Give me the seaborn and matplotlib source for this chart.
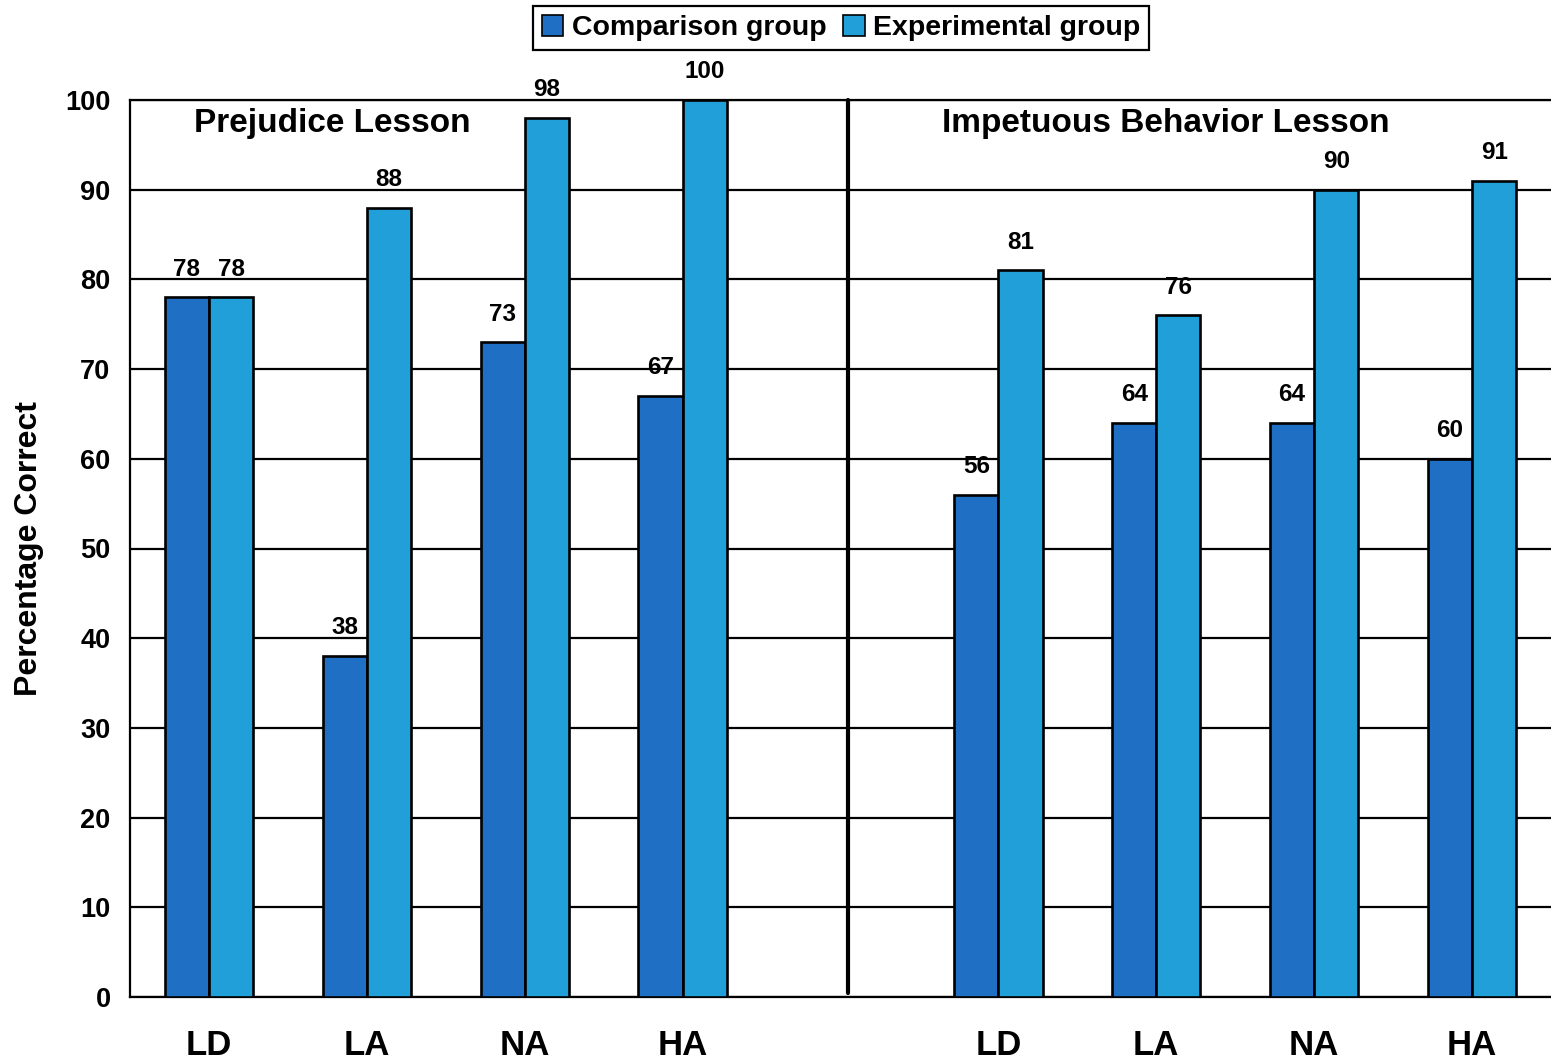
import matplotlib
matplotlib.use("Agg")
import matplotlib.pyplot as plt
from matplotlib.patches import Patch
import seaborn as sns
import pandas as pd

# Data
levels = ["LD", "LA", "NA", "HA"]
lessons = ["Prejudice Lesson", "Impetuous Behavior Lesson"]
groups = ["Comparison group", "Experimental group"]
prejudice_comparison = [78, 38, 73, 67]
prejudice_experimental = [78, 88, 98, 100]
impetuous_comparison = [56, 64, 64, 60]
impetuous_experimental = [81, 76, 90, 91]
yticks = [0, 10, 20, 30, 40, 50, 60, 70, 80, 90, 100]

colors = {"Comparison group": "#1F6FC5", "Experimental group": "#219FD8"}

rows = []
for lesson, comp, exp in [
    (lessons[0], prejudice_comparison, prejudice_experimental),
    (lessons[1], impetuous_comparison, impetuous_experimental),
]:
    for lvl, c, e in zip(levels, comp, exp):
        rows.append({"slot": f"{lesson}|{lvl}", "group": groups[0], "value": c})
        rows.append({"slot": f"{lesson}|{lvl}", "group": groups[1], "value": e})
df = pd.DataFrame(rows)

order = [f"{lessons[0]}|{l}" for l in levels] + ["gap"] + [f"{lessons[1]}|{l}" for l in levels]
tick_labels = levels + [""] + levels

sns.set_theme(style="white")
plt.rcParams["font.family"] = ["Liberation Sans", "DejaVu Sans"]
plt.rcParams["font.weight"] = "bold"
plt.rcParams["text.color"] = "black"
plt.rcParams["axes.labelcolor"] = "black"
plt.rcParams["xtick.color"] = "black"
plt.rcParams["ytick.color"] = "black"

fig = plt.figure(figsize=(15.51, 10.60), dpi=100)
ax = fig.add_axes([130 / 1551, 1 - 997 / 1060, 1 - 130 / 1551, (997 - 100) / 1060])

sns.barplot(
    data=df, x="slot", y="value", hue="group", order=order, hue_order=groups,
    palette=colors, saturation=1, width=0.56, edgecolor="black", linewidth=1.9,
    errorbar=None, legend=False, ax=ax, zorder=3,
)

ax.set_xlim(-0.5, 8.5)
ax.set_ylim(0, 100)
ax.set_yticks(yticks)
ax.set_yticklabels([str(t) for t in yticks], fontsize=19.5, fontweight="bold")
ax.grid(axis="y", color="black", linewidth=1.6, zorder=0)
ax.set_axisbelow(True)

# category labels at centres, tick marks at boundaries
ax.set_xticks(range(len(order)))
ax.set_xticklabels(tick_labels, fontsize=25, fontweight="bold")
ax.tick_params(axis="x", which="major", length=0, pad=23)
ax.set_xticks([i - 0.5 for i in range(len(order) + 1)], minor=True)
ax.tick_params(axis="x", which="minor", length=8, width=1.6, color="black", direction="out")
ax.tick_params(axis="y", length=8, width=1.6, color="black", direction="out", pad=6)

for side in ["left", "bottom", "top"]:
    ax.spines[side].set_visible(True)
    ax.spines[side].set_color("black")
    ax.spines[side].set_linewidth(1.6)
ax.spines["right"].set_visible(False)

ax.set_xlabel("")
ax.set_ylabel("Percentage Correct", fontsize=23, fontweight="bold", labelpad=15)

# value labels
for cont in ax.containers:
    ax.bar_label(cont, fmt="%d", padding=12, fontsize=17.5, fontweight="bold")

# divider between the two lessons
ax.plot([4.05, 4.05], [0.4, 100], color="black", linewidth=3, zorder=4, clip_on=False)

# lesson titles
ax.text(0.78, 97.4, lessons[0], ha="center", va="center", fontsize=24, fontweight="bold")
ax.text(6.06, 97.4, lessons[1], ha="center", va="center", fontsize=24, fontweight="bold")

handles = [Patch(facecolor=colors[g], edgecolor="black", linewidth=1.2) for g in groups]
leg = fig.legend(
    handles, groups, loc="center", bbox_to_anchor=(841 / 1551, 1 - 28 / 1060), ncol=2,
    frameon=True, fancybox=False, edgecolor="black", framealpha=1,
    prop={"size": 20.5, "weight": "bold"}, handlelength=0.75, handleheight=0.75,
    handletextpad=0.3, columnspacing=0.6, borderpad=0.3, borderaxespad=0,
)
leg.get_frame().set_linewidth(1.6)

fig.savefig("out.png", dpi=100)
